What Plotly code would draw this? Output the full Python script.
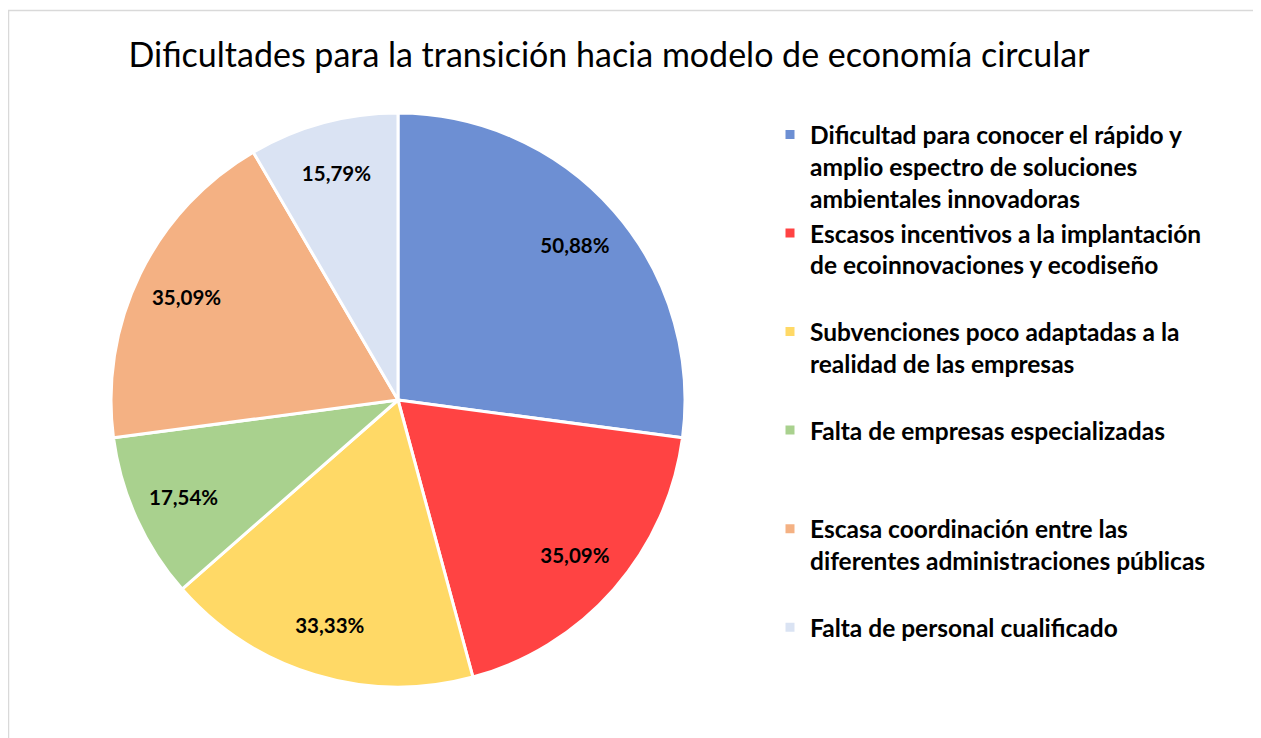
import plotly.graph_objects as go

categories = [
    "Dificultad para conocer el rápido y<br>amplio espectro de soluciones<br>ambientales innovadoras",
    "Escasos incentivos a la implantación<br>de ecoinnovaciones y ecodiseño<br> ",
    "Subvenciones poco adaptadas a la<br>realidad de las empresas<br> ",
    "Falta de empresas especializadas<br> <br> ",
    "Escasa coordinación entre las<br>diferentes administraciones públicas<br> ",
    "Falta de personal cualificado",
]
values = [50.88, 35.09, 33.33, 17.54, 35.09, 15.79]
colors = ["#6D8FD3", "#FF4343", "#FFD966", "#A9D18E", "#F4B183", "#DAE3F3"]
title = "Dificultades para la transición hacia modelo de economía circular"

# page has an 8px body margin; figure coordinates are page coordinates minus 8
W, H = 1253, 730
cx, cy, R = 390, 392, 287
domain = dict(x=[(cx - R) / W, (cx + R) / W], y=[1 - (cy + R) / H, 1 - (cy - R) / H])

fig = go.Figure()
fig.add_trace(go.Pie(
    labels=categories,
    values=values,
    sort=False,
    direction="clockwise",
    rotation=0,
    marker=dict(colors=colors, line=dict(color="white", width=3)),
    textinfo="none",
    domain=domain,
    hoverinfo="label+value",
))
# transparent ring trace carrying the data labels further out, as in the original
fig.add_trace(go.Pie(
    labels=categories,
    values=values,
    sort=False,
    direction="clockwise",
    rotation=0,
    hole=0.64,
    marker=dict(colors=["rgba(0,0,0,0)"] * len(values), line=dict(width=0)),
    texttemplate="%{value:.2f}%",
    textposition="inside",
    insidetextorientation="horizontal",
    textfont=dict(family="Lato", size=20.5, color="black", weight="bold"),
    domain=domain,
    showlegend=False,
    hoverinfo="skip",
))

fig.update_layout(
    width=W, height=H,
    margin=dict(l=0, r=0, t=0, b=0),
    paper_bgcolor="white",
    separators=",.",
    title=dict(text=title, x=601 / W, xanchor="center", y=1 - 47 / H, yanchor="middle",
               font=dict(family="Lato", size=34, color="black")),
    legend=dict(x=762 / W, xanchor="left", y=1 - 104 / H, yanchor="top",
                valign="top", font=dict(family="Lato", size=24.5, color="black", weight="bold"),
                itemwidth=30, bgcolor="rgba(0,0,0,0)"),
    shapes=[dict(type="rect", xref="paper", yref="paper", x0=0.5 / W, y0=-0.05, x1=1.05, y1=1 - 2.5 / H,
                 line=dict(color="#D9D9D9", width=1.5), fillcolor="rgba(0,0,0,0)", layer="below")],
)

fig.write_html("out.html")
